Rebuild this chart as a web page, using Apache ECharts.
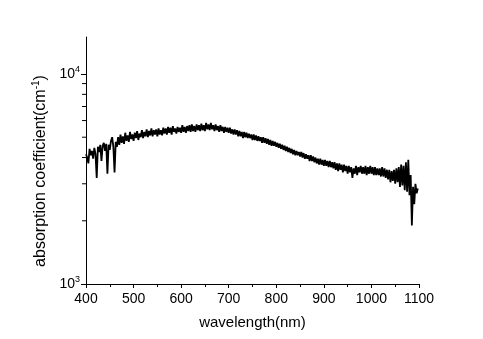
<!DOCTYPE html>
<html>
<head>
<meta charset="utf-8">
<script src="https://cdn.jsdelivr.net/npm/echarts@6/dist/echarts.min.js"></script>
<style>
html,body{margin:0;padding:0;background:#fff;}
#c{width:483px;height:339px;}
</style>
</head>
<body>
<div id="c"></div>
<script>
const startWavelength = 400;
const stepWavelength = 2.5;
const absorption = [
4150,4000,3750,4400,4100,4300,3950,4450,4150,3200,4500,4250,4600,3850,4550,4700,4300,4650,3350,4600,
4350,4800,5000,4500,3400,4750,4500,5000,4600,5150,4700,5050,4650,5250,4800,5100,4750,5300,4900,5150,
4800,5250,4950,5350,4850,5200,5000,5400,4950,5300,5050,5450,5000,5350,5100,5500,5050,5400,5150,5450,
5050,5500,5150,5400,5100,5550,5200,5500,5150,5600,5250,5550,5150,5650,5300,5500,5200,5600,5300,5550,
5250,5700,5300,5600,5250,5650,5350,5700,5300,5750,5350,5650,5300,5750,5400,5700,5350,5800,5400,5700,
5350,5850,5450,5750,5400,5850,5450,5700,5350,5750,5400,5650,5300,5700,5350,5600,5250,5600,5300,5550,
5250,5550,5200,5450,5150,5450,5150,5400,5050,5350,5050,5300,4950,5300,5000,5250,4950,5200,4950,5150,
4850,5150,4850,5100,4800,5050,4800,5000,4700,5000,4700,4950,4650,4900,4600,4850,4550,4800,4550,4750,
4500,4700,4450,4650,4400,4600,4350,4550,4300,4500,4250,4450,4200,4400,4150,4350,4100,4300,4100,4250,
4050,4250,4000,4200,3950,4150,3950,4100,3850,4100,3850,4050,3800,4000,3750,3950,3700,3950,3700,3900,
3650,3900,3650,3850,3600,3850,3600,3800,3550,3800,3500,3750,3450,3750,3500,3700,3400,3700,3450,3650,
3350,3650,3400,3600,3200,3550,3350,3650,3300,3600,3400,3650,3350,3600,3350,3650,3300,3600,3350,3650,
3350,3600,3300,3600,3300,3550,3300,3550,3250,3600,3250,3550,3200,3500,3150,3500,3050,3450,3100,3500,
3000,3550,3050,3600,2900,3700,2950,3650,2800,3800,2750,3900,2650,3300,1900,2900,2400,3000,2700,2850];
const wavelengths = absorption.map((_, i) => startWavelength + stepWavelength * i);
const xTicks = [400,500,600,700,800,900,1000,1100];
const yMajor = [1000,10000];
const yMinor = [2000,3000,4000,5000,6000,7000,8000,9000];

const seriesData = wavelengths.map((w,i)=>[w, absorption[i]]);
const minorTickData = yMinor.map(v=>[xTicks[0], v]);
const font = 'Liberation Sans, Arial, sans-serif';
const chart = echarts.init(document.getElementById('c'), null, {renderer:'canvas'});
chart.setOption({
  animation:false,
  backgroundColor:'#fff',
  grid:{left:86,right:64,top:37,bottom:55},
  xAxis:{
    type:'value', min:xTicks[0], max:xTicks[xTicks.length-1], interval:100,
    name:'wavelength(nm)', nameLocation:'middle', nameGap:31,
    nameTextStyle:{fontFamily:font,fontSize:15,color:'#000'},
    axisLine:{lineStyle:{color:'#000',width:1}},
    axisTick:{show:true,inside:false,length:4,lineStyle:{color:'#000'}},
    minorTick:{show:true,splitNumber:2,length:3,lineStyle:{color:'#000'}},
    axisLabel:{fontFamily:font,fontSize:14,color:'#000',margin:8,formatter:function(v){return String(v);}},
    splitLine:{show:false}
  },
  yAxis:{
    type:'log', logBase:10, min:1000, max:15000,
    name:'absorption coefficient(cm{sup|-1})', nameLocation:'middle', nameGap:32,
    nameTextStyle:{fontFamily:font,fontSize:16,color:'#000',padding:[0,0,0,-21],
      rich:{sup:{fontFamily:font,fontSize:10,color:'#000',padding:[0,0,8,0]}}},
    axisLine:{show:true,lineStyle:{color:'#000',width:1}},
    axisTick:{show:true,inside:false,length:5,lineStyle:{color:'#000'}},
    axisLabel:{fontFamily:font,fontSize:14,color:'#000',margin:6,showMaxLabel:false,
      formatter:function(v){
        const e=Math.round(Math.log10(v));
        if(yMajor.indexOf(Math.pow(10,e))>=0 && Math.abs(Math.log10(v)-e)<1e-6) return '10{sup|'+e+'}';
        return '';
      },
      rich:{sup:{fontFamily:font,fontSize:9,color:'#000',padding:[0,0,9,0]}}},
    splitLine:{show:false}
  },
  series:[{
    type:'line', data:seriesData, showSymbol:false,
    lineStyle:{color:'#000',width:1.8}, silent:true
  },{
    type:'custom', data:minorTickData, silent:true, clip:false, z:5,
    renderItem:function(params, api){
      const p = api.coord([api.value(0), api.value(1)]);
      return {type:'line', shape:{x1:p[0]-4, y1:p[1], x2:p[0], y2:p[1]},
              style:{stroke:'#000', lineWidth:1}};
    }
  }]
});
</script>
</body>
</html>
